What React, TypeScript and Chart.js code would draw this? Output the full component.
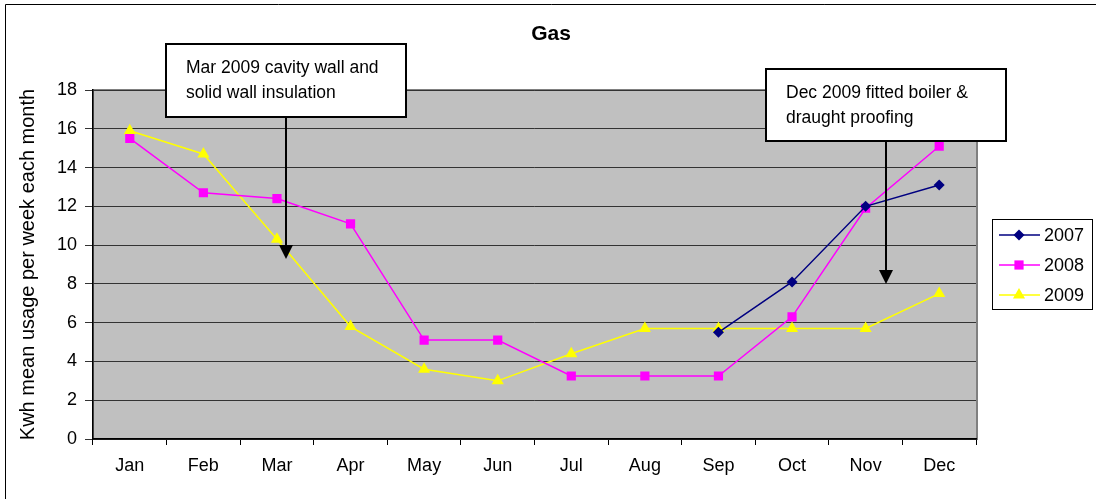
import React, { useEffect, useRef } from 'react';
import { Chart, registerables } from 'chart.js';

Chart.register(...registerables);

const months = ['Jan', 'Feb', 'Mar', 'Apr', 'May', 'Jun', 'Jul', 'Aug', 'Sep', 'Oct', 'Nov', 'Dec'];
const series2007: (number | null)[] = [null, null, null, null, null, null, null, null, 5.5, 8.1, 12.0, 13.1];
const series2008: number[] = [15.5, 12.7, 12.4, 11.1, 5.1, 5.1, 3.25, 3.25, 3.25, 6.3, 11.9, 15.1];
const series2009: number[] = [15.9, 14.7, 10.3, 5.8, 3.6, 3.0, 4.4, 5.7, 5.7, 5.7, 5.7, 7.5];
const seriesNames = ['2007', '2008', '2009'];
const yTicks = [0, 2, 4, 6, 8, 10, 12, 14, 16, 18];
const titleText = 'Gas';
const yTitle = 'Kwh mean usage per week each month';
const note1 = ['Mar 2009 cavity wall and', 'solid wall insulation'];
const note2 = ['Dec 2009 fitted boiler &', 'draught proofing'];

const FONT = '"Liberation Sans", Arial, sans-serif';

function drawMarker(ctx: CanvasRenderingContext2D, style: string, x: number, y: number, r: number, color: string) {
  ctx.save();
  ctx.fillStyle = color;
  ctx.beginPath();
  if (style === 'rectRot') {
    ctx.moveTo(x - r, y);
    ctx.lineTo(x, y - r);
    ctx.lineTo(x + r, y);
    ctx.lineTo(x, y + r);
  } else if (style === 'rect') {
    const s = Math.SQRT1_2 * r;
    ctx.rect(x - s, y - s, 2 * s, 2 * s);
  } else {
    ctx.moveTo(x, y - r);
    ctx.lineTo(x + Math.sin((2 * Math.PI) / 3) * r, y - Math.cos((2 * Math.PI) / 3) * r);
    ctx.lineTo(x + Math.sin((4 * Math.PI) / 3) * r, y - Math.cos((4 * Math.PI) / 3) * r);
  }
  ctx.closePath();
  ctx.fill();
  ctx.restore();
}

function drawNote(ctx: CanvasRenderingContext2D, lines: string[], bx: number, by: number, bw: number, bh: number, ax: number, tipY: number) {
  ctx.save();
  ctx.strokeStyle = '#000';
  ctx.lineWidth = 2;
  ctx.beginPath();
  ctx.moveTo(ax, by + bh);
  ctx.lineTo(ax, tipY - 12);
  ctx.stroke();
  ctx.fillStyle = '#000';
  ctx.beginPath();
  ctx.moveTo(ax - 7, tipY - 14);
  ctx.lineTo(ax + 7, tipY - 14);
  ctx.lineTo(ax, tipY);
  ctx.closePath();
  ctx.fill();
  ctx.fillStyle = '#fff';
  ctx.fillRect(bx, by, bw, bh);
  ctx.lineWidth = 2;
  ctx.strokeRect(bx, by, bw, bh);
  ctx.fillStyle = '#000';
  ctx.font = `17.5px ${FONT}`;
  ctx.textAlign = 'left';
  ctx.textBaseline = 'middle';
  lines.forEach((t, i) => ctx.fillText(t, bx + 20, by + 24 + i * 25));
  ctx.restore();
}

const decorPlugin = {
  id: 'decor',
  beforeDraw(chart: any) {
    const { ctx, chartArea: a, width, height } = chart;
    ctx.save();
    ctx.fillStyle = '#fff';
    ctx.fillRect(0, 0, width, height);
    ctx.strokeStyle = '#000';
    ctx.lineWidth = 1;
    ctx.beginPath();
    ctx.moveTo(5.5, height + 5);
    ctx.lineTo(5.5, 4.5);
    ctx.lineTo(width + 5, 4.5);
    ctx.stroke();
    ctx.fillStyle = '#C0C0C0';
    ctx.fillRect(a.left, a.top, a.right - a.left, a.bottom - a.top);
    ctx.strokeStyle = '#808080';
    ctx.lineWidth = 2;
    ctx.strokeRect(a.left, a.top, a.right - a.left + 1, a.bottom - a.top);
    ctx.restore();
  },
  afterDraw(chart: any) {
    const { ctx, chartArea: a } = chart;
    ctx.save();
    ctx.fillStyle = '#000';
    ctx.font = `bold 21px ${FONT}`;
    ctx.textAlign = 'center';
    ctx.textBaseline = 'middle';
    ctx.fillText(titleText, 551, 34);
    ctx.save();
    ctx.translate(28, (a.top + a.bottom) / 2);
    ctx.rotate(-Math.PI / 2);
    ctx.font = `20px ${FONT}`;
    ctx.fillText(yTitle, 0, 0);
    ctx.restore();
    const lx = 992, ly = 219, lw = 100, lh = 90;
    ctx.fillStyle = '#fff';
    ctx.fillRect(lx, ly, lw, lh);
    ctx.strokeStyle = '#000';
    ctx.lineWidth = 1;
    ctx.strokeRect(lx + 0.5, ly + 0.5, lw, lh);
    chart.data.datasets.forEach((ds: any, i: number) => {
      const y = ly + 16 + i * 30;
      ctx.strokeStyle = ds.borderColor;
      ctx.lineWidth = 1.5;
      ctx.beginPath();
      ctx.moveTo(lx + 7, y);
      ctx.lineTo(lx + 48, y);
      ctx.stroke();
      drawMarker(ctx, ds.pointStyle, lx + 27, y, ds.pointRadius, ds.borderColor);
      ctx.fillStyle = '#000';
      ctx.font = `18px ${FONT}`;
      ctx.textAlign = 'left';
      ctx.textBaseline = 'middle';
      ctx.fillText(seriesNames[i], lx + 52, y + 1);
    });
    ctx.restore();
    drawNote(ctx, note1, 166, 44, 240, 73, 286, 259);
    drawNote(ctx, note2, 766, 69, 240, 72, 886, 284);
  },
};

export default function App() {
  const ref = useRef<HTMLCanvasElement>(null);
  useEffect(() => {
    if (!ref.current) return;
    const mk = (label: string, data: (number | null)[], color: string, style: string, r: number) => ({
      label,
      data,
      borderColor: color,
      backgroundColor: color,
      pointBackgroundColor: color,
      pointBorderColor: color,
      pointStyle: style,
      pointRadius: r,
      pointBorderWidth: 0,
      borderWidth: 1.5,
      tension: 0,
      spanGaps: false,
    });
    const chart = new Chart(ref.current, {
      type: 'line',
      data: {
        labels: months,
        datasets: [
          mk(seriesNames[0], series2007, '#000080', 'rectRot', 5.5),
          mk(seriesNames[1], series2008, '#FF00FF', 'rect', 6.5),
          mk(seriesNames[2], series2009, '#FFFF00', 'triangle', 7),
        ] as any,
      },
      options: {
        animation: false,
        responsive: false,
        layout: { padding: { top: 90, right: 120, bottom: 0, left: 0 } },
        plugins: {
          legend: { display: false },
          title: { display: false },
          tooltip: { enabled: false },
        },
        scales: {
          x: {
            offset: true,
            afterFit: (s: any) => {
              s.height = 60;
            },
            grid: {
              offset: true,
              drawOnChartArea: false,
              drawTicks: true,
              tickLength: 6,
              color: '#000',
              lineWidth: 1,
            },
            border: { display: true, color: '#000', width: 1.5 },
            ticks: {
              color: '#000',
              font: { family: FONT, size: 18 },
              padding: 10,
              maxRotation: 0,
              autoSkip: false,
            },
          },
          y: {
            min: 0,
            max: 18,
            afterFit: (s: any) => {
              s.width = 93;
            },
            afterBuildTicks: (s: any) => {
              s.ticks = yTicks.map((v) => ({ value: v }));
            },
            grid: {
              drawTicks: true,
              tickLength: 8,
              color: '#333',
              lineWidth: 1,
            },
            border: { display: true, color: '#000', width: 1.5 },
            ticks: {
              color: '#000',
              font: { family: FONT, size: 18 },
              padding: 8,
            },
          },
        },
      },
      plugins: [decorPlugin],
    } as any);
    return () => chart.destroy();
  }, []);
  return (
    <div style={{ position: 'fixed', left: 0, top: 0, width: 1096, height: 499 }}>
      <canvas ref={ref} width={1096} height={499} style={{ display: 'block', width: 1096, height: 499 }} />
    </div>
  );
}
